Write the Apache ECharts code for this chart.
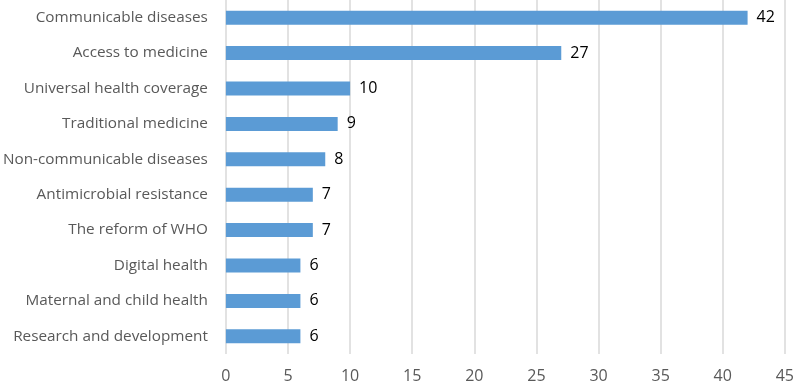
<!DOCTYPE html>
<html><head><meta charset="utf-8">
<script src="https://cdn.jsdelivr.net/npm/echarts@6/dist/echarts.min.js"></script>
<style>html,body{margin:0;padding:0;background:#fff}#c{width:797px;height:388px}</style>
</head><body><div id="c"></div>
<script>
const categories = ["Communicable diseases","Access to medicine","Universal health coverage","Traditional medicine","Non-communicable diseases","Antimicrobial resistance","The reform of WHO","Digital health","Maternal and child health","Research and development"];
const values = [42,27,10,9,8,7,7,6,6,6];
const xTicks = [0,5,10,15,20,25,30,35,40,45];
const chart = echarts.init(document.getElementById('c'), null, {renderer:'canvas'});
chart.setOption({
  animation:false,
  grid:{left:225,right:8.5,top:0,height:354,containLabel:false},
  xAxis:{type:'value',min:0,max:45,interval:5,
    axisLine:{show:false},axisTick:{show:false},
    splitLine:{show:true,lineStyle:{color:'#d9d9d9',width:1.5}},
    axisLabel:{color:'#595959',fontSize:16,fontFamily:'Open Sans',margin:14,
      formatter:v=>xTicks.includes(v)?String(v):''}},
  yAxis:{type:'category',inverse:true,data:categories,
    axisLine:{show:false},axisTick:{show:false},
    axisLabel:{color:'#595959',fontSize:15.3,fontFamily:'Open Sans',margin:18}},
  series:[{type:'bar',data:values,barWidth:14,
    itemStyle:{color:'#5b9bd5'},
    label:{show:true,position:'right',distance:9,color:'#000',fontSize:16,fontFamily:'Open Sans'}}]
});
</script></body></html>
